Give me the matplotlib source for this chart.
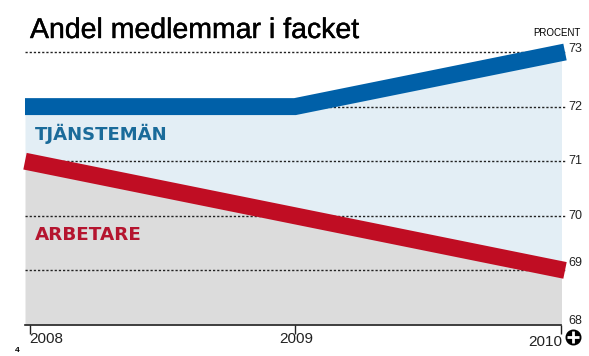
#!/usr/bin/env python3

import matplotlib
matplotlib.use('Agg')
import matplotlib.pyplot as plt
import matplotlib.patheffects as pe
from matplotlib.patches import Rectangle
from matplotlib.transforms import offset_copy

YEARS = [2008, 2009, 2010]
TJANSTEMAN = [72, 72, 73]
ARBETARE = [71, 70, 69]
Y_TICKS = [69, 70, 71, 72, 73]
Y_BOTTOM = 68

BLUE = '#0060a8'
RED = '#c00d23'
LIGHT_BLUE = '#e3eef5'
GREY = '#dcdcdc'
INK = '#222222'
W, H = 589, 356

# lines run slightly past the filled area on the right
PLOT_END = 2009.985

plt.rcParams['font.family'] = ['Liberation Sans', 'DejaVu Sans']

fig = plt.figure(figsize=(W / 100, H / 100), dpi=100)
ax = fig.add_axes([25 / W, 1 - 325 / H, (565 - 25) / W, (325 - 52) / H])
ax.set_xlim(2008, 2010)
ax.set_ylim(Y_BOTTOM, 73)
ax.patch.set_visible(False)

fill_top = ax.fill_between(YEARS, ARBETARE, TJANSTEMAN, color=LIGHT_BLUE, lw=0, zorder=1)
fill_low = ax.fill_between(YEARS, Y_BOTTOM, ARBETARE, color=GREY, lw=0, zorder=1)
for fill in [fill_top, fill_low]:
    fill.set_clip_path(Rectangle((2008, Y_BOTTOM), PLOT_END - 2008, 5, transform=ax.transData))

ax.hlines(Y_TICKS, 2008, 2010, color=INK, lw=1, linestyle=(0, (1.6, 1.4)),
          clip_on=False, zorder=2)

ax.plot(YEARS, TJANSTEMAN, color=BLUE, lw=12.2, solid_capstyle='butt',
        solid_joinstyle='miter', clip_on=False, zorder=3)
ax.plot(YEARS, ARBETARE, color=RED, lw=12.2, solid_capstyle='butt',
        solid_joinstyle='miter', clip_on=False, zorder=3)

for side in ['top', 'left', 'right']:
    ax.spines[side].set_visible(False)
ax.spines['bottom'].set_color(INK)
ax.spines['bottom'].set_linewidth(1.2)
ax.spines['bottom'].set_bounds(2008, PLOT_END)
ax.set_yticks([])
ax.set_xticks([2008.02, 2009, PLOT_END])
ax.set_xticklabels([])
ax.tick_params(axis='x', length=6.5, width=1, color=INK)


def note(text, x, y, dx, dy, **kw):
    ax.annotate(text, xy=(x, y), xytext=(dx, dy), textcoords='offset pixels',
                annotation_clip=False, **kw)


# the printed numbers do not sit exactly on their grid lines
label_shift = {73: 3, 72: 0, 71: 0, 70: 0, 69: 7}
for val in Y_TICKS:
    note(str(val), 2010, val, 3, label_shift[val], fontsize=9, ha='left', va='center', color=INK)
note(str(Y_BOTTOM), 2010, Y_BOTTOM, 3, 4, fontsize=9, ha='left', va='center', color=INK)

note('2008', YEARS[0], Y_BOTTOM, 4, -14, fontsize=11, ha='left', va='center', color=INK)
note('2009', YEARS[1], Y_BOTTOM, 1, -14, fontsize=11, ha='center', va='center', color=INK)
note('2010', YEARS[2], Y_BOTTOM, -3, -17, fontsize=11, ha='right', va='center', color=INK)
note('4', YEARS[0], Y_BOTTOM, -8, -25, fontsize=6, fontweight='bold', ha='center', va='center',
     color='black')

note('PROCENT', 2010, 73, 16, 19, fontsize=7, ha='right', va='center', color='black')
note('TJÄNSTEMÄN', 2008, 72, 10, -27, fontsize=13, fontweight='bold', family='DejaVu Sans',
     ha='left', va='center', color='#1a6b9a')
note('ARBETARE', 2008, 70, 10, -19, fontsize=13.2, fontweight='bold', family='DejaVu Sans',
     ha='left', va='center', color='#b5152f')

fig.text(30 / W, 1 - 31 / H, 'Andel medlemmar i facket', fontsize=20.5, color='black',
         ha='left', va='center',
         path_effects=[pe.withStroke(linewidth=0.3, foreground='black')])

# round logo next to the last year
logo = offset_copy(ax.transData, fig=fig, x=8, y=-12, units='dots')
ax.plot([2010], [Y_BOTTOM], transform=logo, marker='o', ms=10.5, color='black',
        clip_on=False, zorder=5)
ax.plot([2010], [Y_BOTTOM], transform=logo, marker='+', ms=9, mew=2, color='white',
        clip_on=False, zorder=6)

fig.savefig('out.png', dpi=100)
